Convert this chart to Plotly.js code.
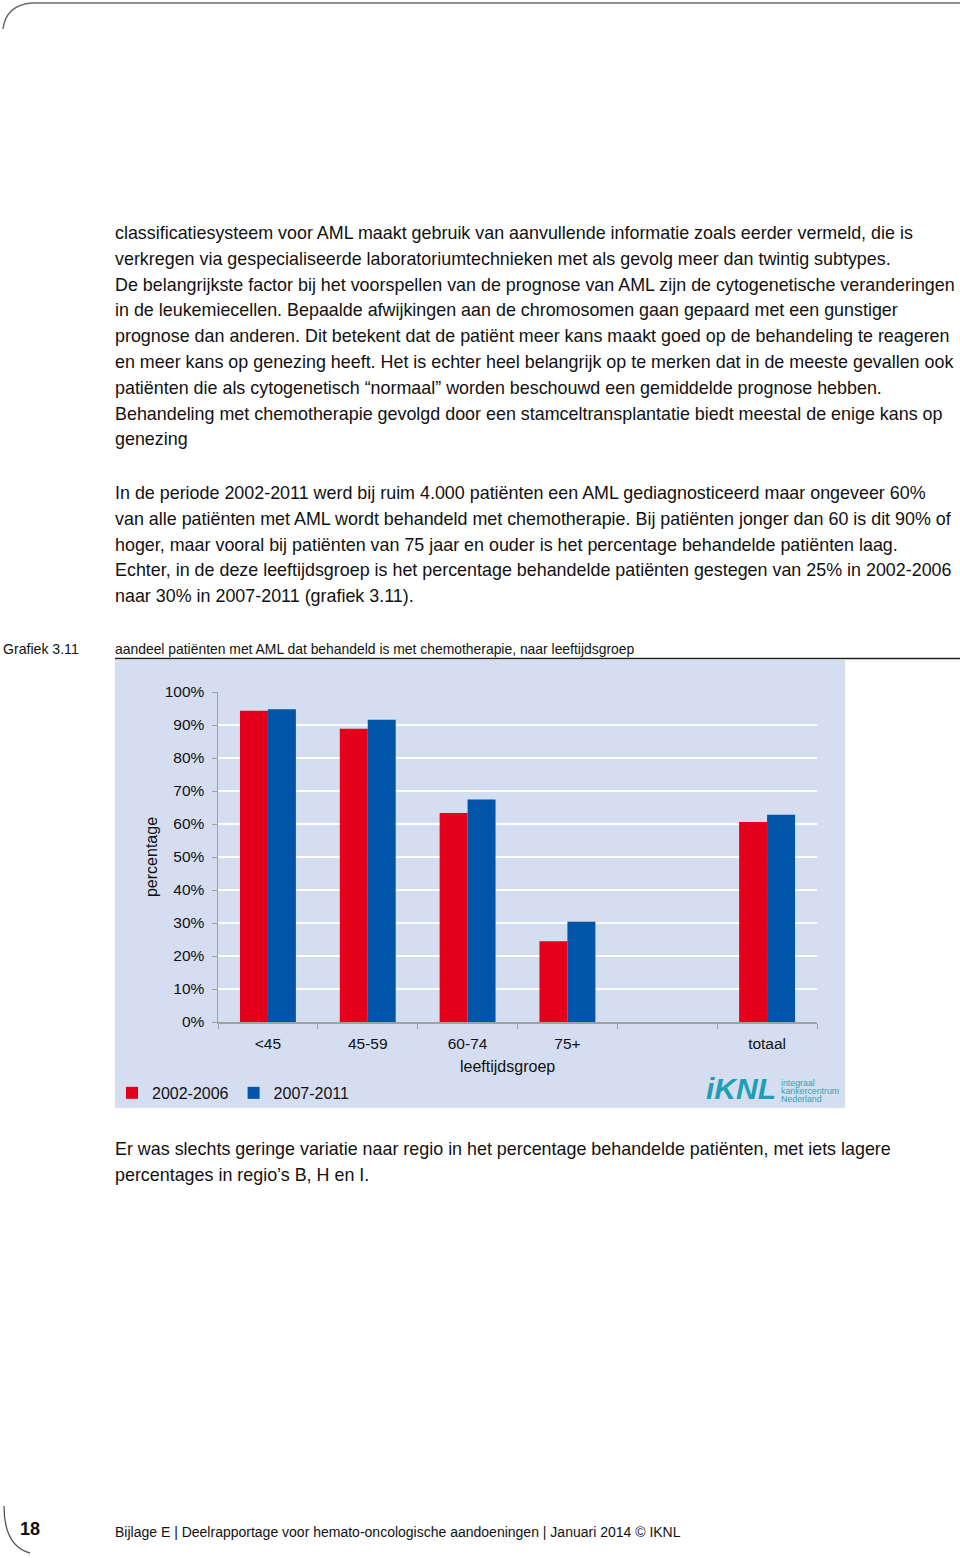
<!DOCTYPE html>
<html>
<head>
<meta charset="utf-8">
<script src="https://cdn.plot.ly/plotly-3.0.1.min.js"></script>
<style>
  html, body { margin:0; padding:0; background:#fff; }
  #page { position:relative; width:960px; height:1558px; overflow:hidden; font-family:"Liberation Sans",Arial,sans-serif; color:#111; }
  .ln { position:absolute; left:115px; white-space:nowrap; font-size:17.9px; line-height:26px; }
  .small { position:absolute; white-space:nowrap; font-size:14px; line-height:16px; }
  #chart { position:absolute; left:115px; top:660px; width:730px; height:448px; }
  svg.deco { position:absolute; left:0; top:0; }
</style>
</head>
<body>
<div id="page">
<svg class="deco" width="960" height="1558">
  <path d="M3,29 Q6,5 32,3 L960,3" fill="none" stroke="#6b6b6b" stroke-width="1.5"/>
  <path d="M4,1506 Q4,1546 30,1553" fill="none" stroke="#555" stroke-width="1.3"/>
  <line x1="115" y1="658.5" x2="960" y2="658.5" stroke="#222" stroke-width="1.5"/>
</svg>
<div id="text1"></div>
<div class="small" style="left:3px; top:641px; font-size:14.1px;">Grafiek 3.11</div>
<div class="small" style="left:115px; top:641px; font-size:13.9px;">aandeel patiënten met AML dat behandeld is met chemotherapie, naar leeftijdsgroep</div>
<div id="chart"></div>
<div style="position:absolute; left:20px; top:1519px; font-size:18px; font-weight:bold; font-family:'Liberation Sans',Arial,sans-serif;">18</div>
<div class="small" style="left:115px; top:1524px; font-size:14px;">Bijlage E | Deelrapportage voor hemato-oncologische aandoeningen | Januari 2014 © IKNL</div>
</div>
<script>
// ---- body text ----
const para1 = [
  "classificatiesysteem voor AML maakt gebruik van aanvullende informatie zoals eerder vermeld, die is",
  "verkregen via gespecialiseerde laboratoriumtechnieken met als gevolg meer dan twintig subtypes.",
  "De belangrijkste factor bij het voorspellen van de prognose van AML zijn de cytogenetische veranderingen",
  "in de leukemiecellen. Bepaalde afwijkingen aan de chromosomen gaan gepaard met een gunstiger",
  "prognose dan anderen. Dit betekent dat de patiënt meer kans maakt goed op de behandeling te reageren",
  "en meer kans op genezing heeft. Het is echter heel belangrijk op te merken dat in de meeste gevallen ook",
  "patiënten die als cytogenetisch “normaal” worden beschouwd een gemiddelde prognose hebben.",
  "Behandeling met chemotherapie gevolgd door een stamceltransplantatie biedt meestal de enige kans op",
  "genezing"
];
const para2 = [
  "In de periode 2002-2011 werd bij ruim 4.000 patiënten een AML gediagnosticeerd maar ongeveer 60%",
  "van alle patiënten met AML wordt behandeld met chemotherapie. Bij patiënten jonger dan 60 is dit 90% of",
  "hoger, maar vooral bij patiënten van 75 jaar en ouder is het percentage behandelde patiënten laag.",
  "Echter, in de deze leeftijdsgroep is het percentage behandelde patiënten gestegen van 25% in 2002-2006",
  "naar 30% in 2007-2011 (grafiek 3.11)."
];
const para3 = [
  "Er was slechts geringe variatie naar regio in het percentage behandelde patiënten, met iets lagere",
  "percentages in regio’s B, H en I."
];
const page = document.getElementById('text1');
function addPara(lines, y0) {
  lines.forEach((t, i) => {
    const d = document.createElement('div');
    d.className = 'ln';
    d.style.top = (y0 + i * 25.8 - 13) + 'px';
    d.textContent = t;
    page.appendChild(d);
  });
}
addPara(para1, 233);
addPara(para2, 493);
addPara(para3, 1149);

// ---- chart data ----
const categories = ['<45', '45-59', '60-74', '75+', ' ', 'totaal'];
const series1Name = '2002-2006';
const series2Name = '2007-2011';
const series1 = [94.3, 88.9, 63.3, 24.5, null, 60.6];
const series2 = [94.8, 91.6, 67.4, 30.4, null, 62.8];
const yTicks = [0, 10, 20, 30, 40, 50, 60, 70, 80, 90, 100];
const yTickText = yTicks.map(v => v + '%');
const logoLines = ['integraal', 'kankercentrum', 'Nederland'];

const panel = '#d5ddf1';
const font = 'Liberation Sans, Arial, sans-serif';

const traces = [
  { type: 'bar', name: series1Name, x: categories, y: series1, marker: { color: '#e2001a' } },
  { type: 'bar', name: series2Name, x: categories, y: series2, marker: { color: '#0055a8' } }
];

const annotations = [
  { text: 'leeftijdsgroep', xref: 'paper', yref: 'paper', x: 0.4825, y: -0.134, xanchor: 'center', yanchor: 'middle',
    showarrow: false, font: { size: 16, color: '#111' } },
  { text: '<b><i>iKNL</i></b>', xref: 'paper', yref: 'paper', x: 0.812, y: -0.2, xanchor: 'left', yanchor: 'middle',
    showarrow: false, font: { size: 30, color: '#1e9fb8', family: 'Liberation Sans, Arial, sans-serif' } }
];
logoLines.forEach((t, i) => {
  annotations.push({ text: t, xref: 'paper', yref: 'paper', x: 0.936, y: -0.185 - i * 0.0245,
    xanchor: 'left', yanchor: 'middle', showarrow: false, font: { size: 8.8, color: '#3b9fb3' } });
});

const layout = {
  width: 730, height: 448,
  margin: { l: 103, r: 28, t: 32, b: 86, autoexpand: false },
  paper_bgcolor: panel, plot_bgcolor: panel,
  font: { family: font, size: 15.5, color: '#111' },
  barmode: 'group', bargap: 0.44, bargroupgap: 0,
  showlegend: true,
  legend: { orientation: 'h', x: -0.177, xanchor: 'left', y: -0.215, yanchor: 'middle',
            font: { size: 16, color: '#111' }, bgcolor: 'rgba(0,0,0,0)', traceorder: 'normal' },
  xaxis: {
    type: 'category', categoryorder: 'array', categoryarray: categories,
    tickson: 'boundaries', ticks: 'outside', ticklen: 5, tickcolor: '#a0a0a0',
    showline: true, linecolor: '#a0a0a0', linewidth: 1.5, showgrid: false,
    ticklabelstandoff: 7, automargin: false,
    tickfont: { size: 15.5, color: '#111' }
  },
  yaxis: {
    range: [0, 100], tickmode: 'array', tickvals: yTicks, ticktext: yTickText,
    ticks: 'outside', ticklen: 5, tickcolor: '#a0a0a0',
    showline: true, linecolor: '#a0a0a0', linewidth: 1.5,
    gridcolor: '#ffffff', gridwidth: 2, zeroline: false,
    ticklabelstandoff: 4, automargin: false,
    tickfont: { size: 15.5, color: '#111' },
    title: { text: 'percentage', font: { size: 16, color: '#111' }, standoff: 3 }
  },
  annotations: annotations
};

Plotly.newPlot('chart', traces, layout, { displayModeBar: false, staticPlot: true });
</script>
</body>
</html>
